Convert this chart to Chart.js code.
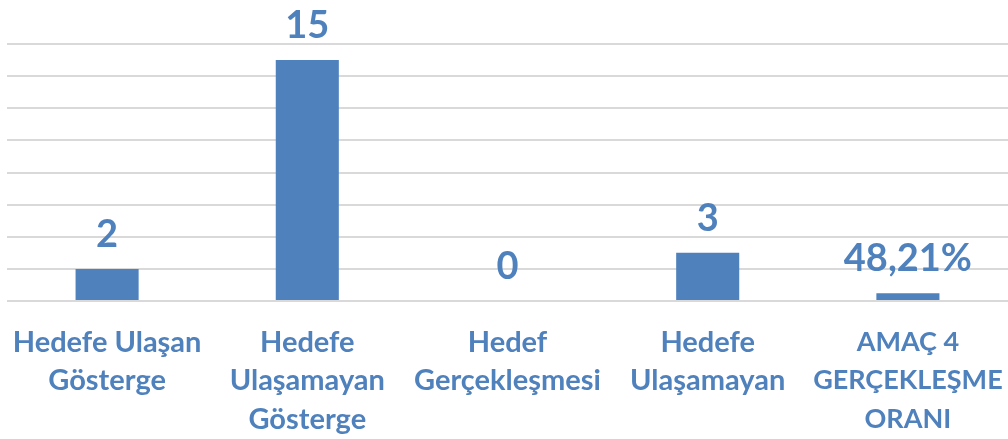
<!DOCTYPE html>
<html lang="tr">
<head>
    <meta charset="UTF-8">
    <title>Amaç 4 Gerçekleşme</title>
    <style>
        html, body {
            margin: 0;
            padding: 0;
            background-color: #fff;
        }
        canvas {
            display: block;
        }
    </style>
</head>
<body>
    <canvas id="goalChart" width="1008" height="439"></canvas>

    <script src="https://cdn.jsdelivr.net/npm/chart.js"></script>
    <script>
        const categories = [
            ['Hedefe Ulaşan', 'Gösterge'],
            ['Hedefe', 'Ulaşamayan', 'Gösterge'],
            ['Hedef', 'Gerçekleşmesi'],
            ['Hedefe', 'Ulaşamayan'],
            ['AMAÇ 4', 'GERÇEKLEŞME', 'ORANI']
        ];
        const values = [2, 15, 0, 3, 0.4821];
        // the last value is a ratio and is printed as a percentage
        const isPercent = [false, false, false, false, true];

        const blue = '#4f81bd';

        function formatValue(v, i) {
            if (isPercent[i]) {
                return (v * 100).toFixed(2).replace('.', ',') + '%';
            }
            return String(v);
        }

        // value labels above each bar
        const valueLabels = {
            id: 'valueLabels',
            afterDatasetsDraw(chart) {
                const ctx = chart.ctx;
                const meta = chart.getDatasetMeta(0);
                ctx.save();
                ctx.font = 'bold 38px Lato';
                ctx.fillStyle = blue;
                ctx.textAlign = 'center';
                ctx.textBaseline = 'alphabetic';
                meta.data.forEach((bar, i) => {
                    ctx.fillText(formatValue(values[i], i), bar.x, bar.y - 22);
                });
                ctx.restore();
            }
        };

        // capitals run wide, so the all-caps label gets a smaller size on the same line pitch
        function tickFont(c) {
            const size = isPercent[c.index] ? 27 : 29;
            return { family: 'Lato', weight: 'bold', size: size, lineHeight: 38.5 / size };
        }

        const ctx = document.getElementById('goalChart').getContext('2d');
        new Chart(ctx, {
            type: 'bar',
            data: {
                labels: categories,
                datasets: [{
                    data: values,
                    backgroundColor: blue,
                    categoryPercentage: 1,
                    barPercentage: 0.315
                }]
            },
            options: {
                responsive: false,
                animation: false,
                layout: {
                    padding: { top: 44, left: 7, right: 0, bottom: 0 }
                },
                plugins: {
                    legend: { display: false },
                    tooltip: { enabled: false }
                },
                scales: {
                    y: {
                        min: 0,
                        max: 16,
                        ticks: { display: false, stepSize: 2 },
                        border: { display: false },
                        grid: {
                            color: '#d9d9d9',
                            lineWidth: 2,
                            drawTicks: false
                        }
                    },
                    x: {
                        border: { display: false },
                        grid: { display: false, drawTicks: false },
                        ticks: {
                            color: blue,
                            padding: 22,
                            maxRotation: 0,
                            autoSkip: false,
                            font: tickFont
                        },
                        // keep the plot full width; the labels may run to the edge
                        afterFit(scale) {
                            scale.paddingLeft = 0;
                            scale.paddingRight = 0;
                            scale.height = 138;
                        }
                    }
                }
            },
            plugins: [valueLabels]
        });
    </script>
</body>
</html>
